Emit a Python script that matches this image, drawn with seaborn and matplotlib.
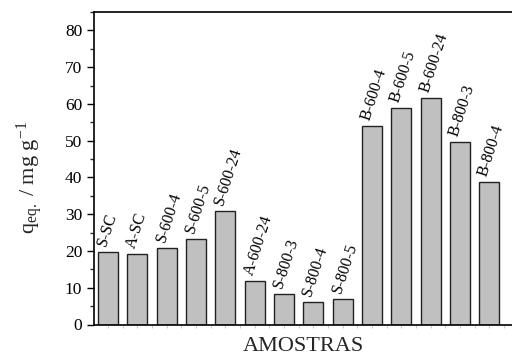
import matplotlib
matplotlib.use("Agg")
import matplotlib.pyplot as plt
import seaborn as sns
import pandas as pd
from matplotlib.ticker import MultipleLocator

samples = ["S-SC", "A-SC", "S-600-4", "S-600-5", "S-600-24", "A-600-24",
           "S-800-3", "S-800-4", "S-800-5", "B-600-4", "B-600-5", "B-600-24",
           "B-800-3", "B-800-4"]
q_eq = [19.8, 19.3, 20.9, 23.3, 30.8, 11.9, 8.4, 6.2, 7.0, 53.9, 59.0, 61.7,
        49.7, 38.8]

df = pd.DataFrame({"amostra": samples, "q": q_eq})

sns.set_style("ticks")
plt.rcParams["font.family"] = ["Liberation Serif", "DejaVu Serif"]
plt.rcParams["mathtext.fontset"] = "custom"
plt.rcParams["mathtext.rm"] = "Liberation Serif"
plt.rcParams["mathtext.it"] = "Liberation Serif:italic"

fig = plt.figure(figsize=(5.12, 3.58), dpi=100)
ax = fig.add_axes([94/512, 1-324.5/358, 1-94/512, (324.5-12)/358])

sns.barplot(data=df, x="amostra", y="q", ax=ax, color="#c0c0c0",
            edgecolor="#222222", linewidth=1.0, width=0.68, saturation=1)

for i, (lab, v) in enumerate(zip(samples, q_eq)):
    ax.text(i + 0.05, v + 1.0, lab, rotation=72, rotation_mode="anchor",
            ha="left", va="bottom", fontsize=11.5, color="black")

ax.set_xlim(-0.48, 13.77)
ax.set_ylim(0, 85)
ax.yaxis.set_major_locator(MultipleLocator(10))
ax.yaxis.set_minor_locator(MultipleLocator(5))
ax.tick_params(axis="y", which="major", length=5, width=1, labelsize=12.5,
               direction="out", colors="black")
ax.tick_params(axis="y", which="minor", length=3, width=1, direction="out")
ax.set_xticks(range(len(samples)))
ax.set_xticklabels([])
ax.xaxis.set_minor_locator(MultipleLocator(0.5))
ax.tick_params(axis="x", which="both", length=2, width=0.8, color="#cccccc",
               direction="out")

for s in ["left", "bottom", "top"]:
    ax.spines[s].set_linewidth(1.2)
    ax.spines[s].set_color("black")
ax.spines["right"].set_visible(False)

ax.set_xlabel("AMOSTRAS", fontsize=16)
ax.xaxis.set_label_coords(0.5, -0.04)
ax.set_ylabel(r"q$_{\mathrm{eq.}}$ / mg g$^{\mathrm{-1}}$", fontsize=16)
ax.yaxis.set_label_coords(-0.118, 0.47)

fig.savefig("out.png", dpi=100)
